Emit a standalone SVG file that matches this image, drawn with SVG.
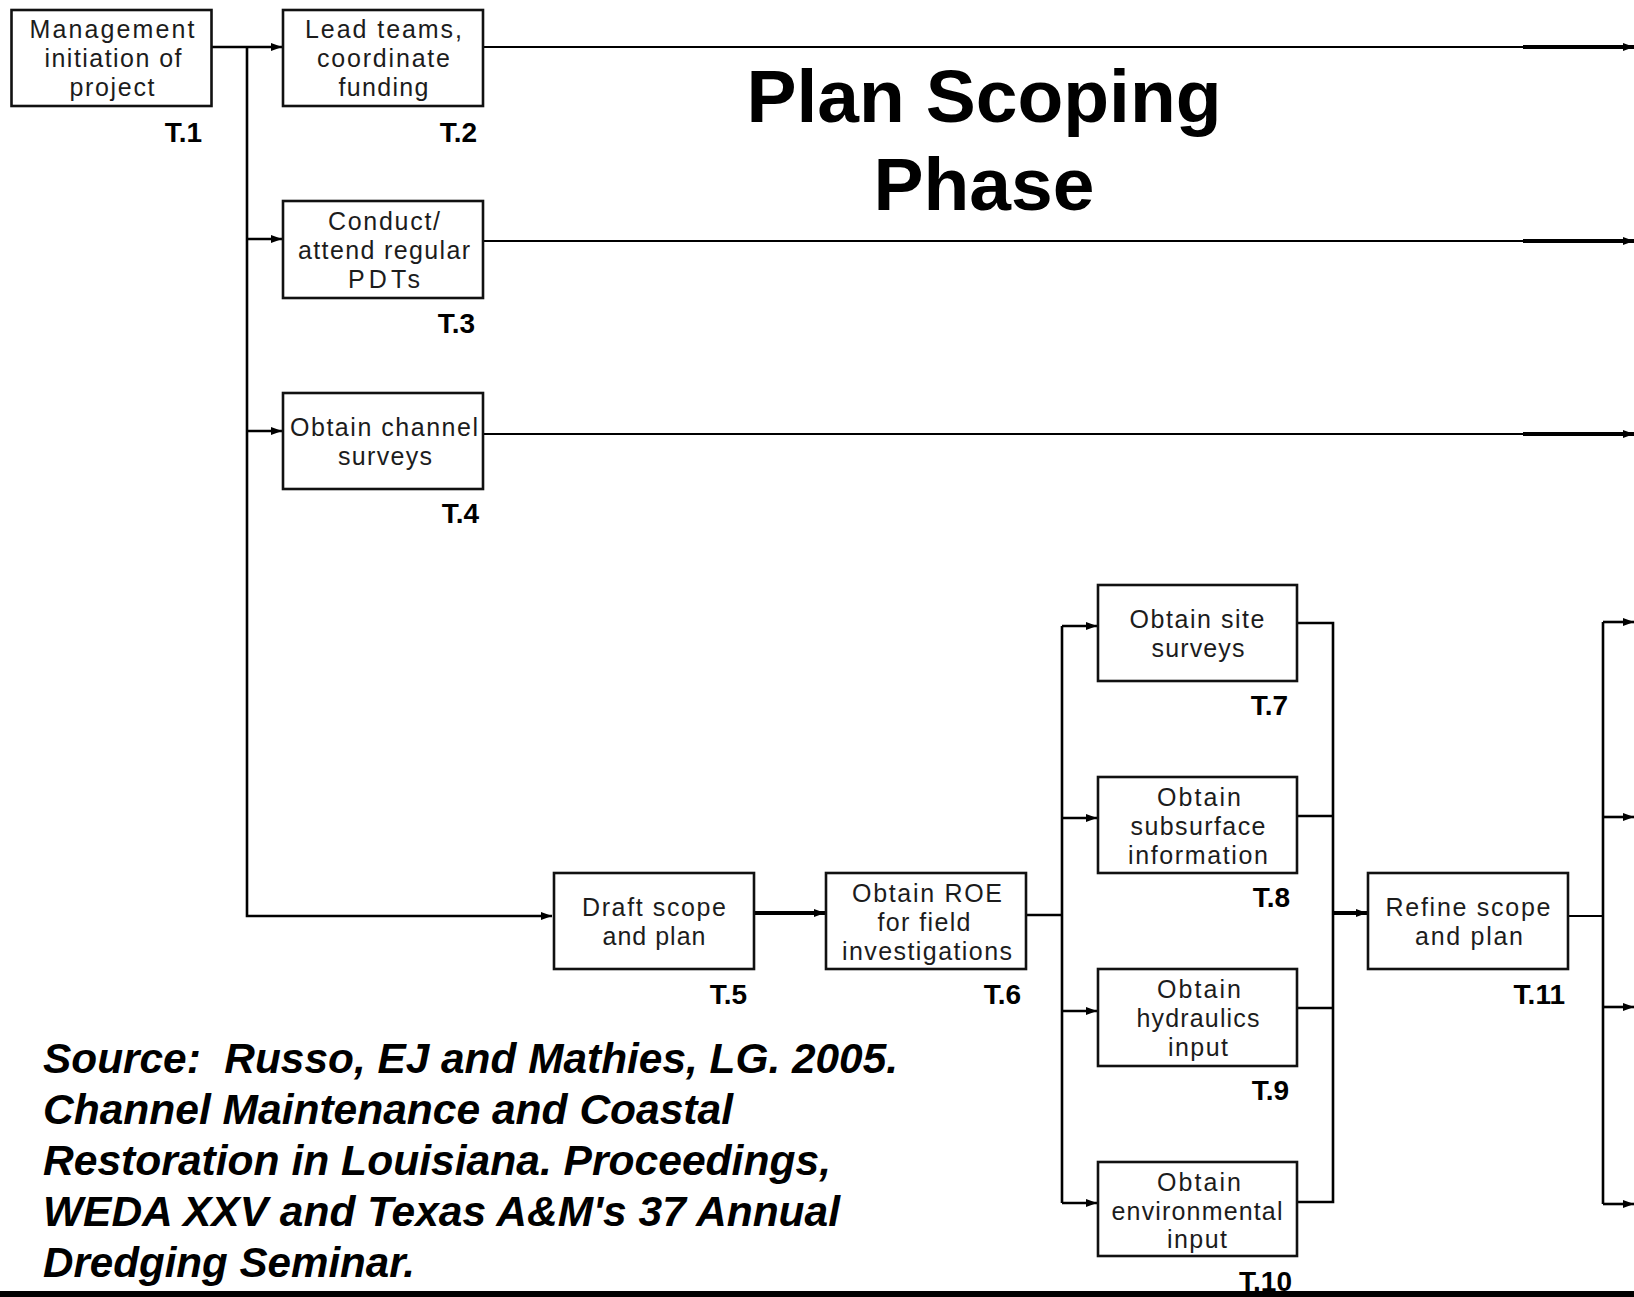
<svg xmlns="http://www.w3.org/2000/svg" width="1634" height="1297" viewBox="0 0 1634 1297">
<style>
.box{fill:#fff;stroke:#111;stroke-width:2.6}
.t{font-family:"Liberation Sans",Arial,sans-serif;font-size:25px;fill:#1c1c1c;text-anchor:middle}
.lbl{font-family:"Liberation Sans",Arial,sans-serif;font-size:28px;font-weight:bold;fill:#000;text-anchor:end}
.title{font-family:"Liberation Sans",Arial,sans-serif;font-size:75px;font-weight:bold;fill:#000;text-anchor:middle}
.src{font-family:"Liberation Sans",Arial,sans-serif;font-size:42px;font-weight:bold;font-style:italic;fill:#000;white-space:pre}
.ln{fill:none;stroke:#000;stroke-width:2.6}
.thin{fill:none;stroke:#000;stroke-width:2}
.thick{fill:none;stroke:#000;stroke-width:4}
</style>
<defs>
<marker id="ah" markerUnits="userSpaceOnUse" markerWidth="11" markerHeight="9" refX="11" refY="4.5" orient="auto">
<path d="M0,0.5 L11,4.5 L0,8.5 z" fill="#000"/>
</marker>
</defs>
<rect x="0" y="0" width="1634" height="1297" fill="#fff"/>
<g id="title">
<text class="title" x="984" y="122">Plan Scoping</text>
<text class="title" x="984" y="210">Phase</text>
</g>
<g id="connectors">
<path class="ln" d="M209,47 H282" marker-end="url(#ah)"/>
<path class="ln" d="M247,47 V916 H552" marker-end="url(#ah)"/>
<path class="ln" d="M247,239 H282" marker-end="url(#ah)"/>
<path class="ln" d="M247,431 H282" marker-end="url(#ah)"/>
<path class="thin" d="M484,47 H1523"/>
<path class="thick" d="M1523,47 H1634" marker-end="url(#ah)"/>
<path class="thin" d="M484,241 H1523"/>
<path class="thick" d="M1523,241 H1634" marker-end="url(#ah)"/>
<path class="thin" d="M484,434 H1523"/>
<path class="thick" d="M1523,434 H1634" marker-end="url(#ah)"/>
<path class="thick" d="M755,913 H825" marker-end="url(#ah)"/>
<path class="ln" d="M1027,915 H1062"/>
<path class="ln" d="M1062,626 V1203"/>
<path class="ln" d="M1062,626 H1097" marker-end="url(#ah)"/>
<path class="ln" d="M1062,818 H1097" marker-end="url(#ah)"/>
<path class="ln" d="M1062,1011 H1097" marker-end="url(#ah)"/>
<path class="ln" d="M1062,1203 H1097" marker-end="url(#ah)"/>
<path class="ln" d="M1297,623 H1333 V1202 H1297"/>
<path class="ln" d="M1297,816 H1333"/>
<path class="ln" d="M1297,1008 H1333"/>
<path class="thick" d="M1333,913 H1367" marker-end="url(#ah)"/>
<path class="thin" d="M1569,916 H1603"/>
<path class="ln" d="M1603,622 V1204"/>
<path class="ln" d="M1603,622 H1634" marker-end="url(#ah)"/>
<path class="ln" d="M1603,817 H1634" marker-end="url(#ah)"/>
<path class="ln" d="M1603,1007 H1634" marker-end="url(#ah)"/>
<path class="ln" d="M1603,1204 H1634" marker-end="url(#ah)"/>
</g>
<g id="T1">
<rect class="box" x="11.5" y="10" width="200" height="96"/>
<text class="t" x="112" y="38" textLength="165">Management</text>
<text class="t" x="113" y="67" textLength="137">initiation of</text>
<text class="t" x="112" y="96" textLength="85">project</text>
<text class="lbl" x="202" y="142">T.1</text>
</g>
<g id="T2">
<rect class="box" x="283" y="10" width="200" height="96"/>
<text class="t" x="383.5" y="38" textLength="157">Lead teams,</text>
<text class="t" x="383.5" y="67" textLength="133">coordinate</text>
<text class="t" x="383.5" y="96" textLength="90">funding</text>
<text class="lbl" x="477" y="142">T.2</text>
</g>
<g id="T3">
<rect class="box" x="283" y="201" width="200" height="97"/>
<text class="t" x="384" y="230" textLength="112">Conduct/</text>
<text class="t" x="384" y="259" textLength="172">attend regular</text>
<text class="t" x="384" y="288" textLength="72">PDTs</text>
<text class="lbl" x="475" y="333">T.3</text>
</g>
<g id="T4">
<rect class="box" x="283" y="393" width="200" height="96"/>
<text class="t" x="384" y="436" textLength="188">Obtain channel</text>
<text class="t" x="385" y="465" textLength="94">surveys</text>
<text class="lbl" x="479" y="523">T.4</text>
</g>
<g id="T5">
<rect class="box" x="554" y="873" width="200" height="96"/>
<text class="t" x="654" y="916" textLength="144">Draft scope</text>
<text class="t" x="654" y="945" textLength="103">and plan</text>
<text class="lbl" x="747" y="1004">T.5</text>
</g>
<g id="T6">
<rect class="box" x="826" y="873" width="200" height="96"/>
<text class="t" x="927" y="902" textLength="150">Obtain ROE</text>
<text class="t" x="924" y="931" textLength="93">for field</text>
<text class="t" x="927" y="960" textLength="170">investigations</text>
<text class="lbl" x="1021" y="1004">T.6</text>
</g>
<g id="T7">
<rect class="box" x="1098" y="585" width="199" height="96"/>
<text class="t" x="1197" y="628" textLength="135">Obtain site</text>
<text class="t" x="1198" y="657" textLength="93">surveys</text>
<text class="lbl" x="1288" y="715">T.7</text>
</g>
<g id="T8">
<rect class="box" x="1098" y="777" width="199" height="96"/>
<text class="t" x="1199" y="806" textLength="84">Obtain</text>
<text class="t" x="1198" y="835" textLength="135">subsurface</text>
<text class="t" x="1198" y="864" textLength="140">information</text>
<text class="lbl" x="1290" y="907">T.8</text>
</g>
<g id="T9">
<rect class="box" x="1098" y="969" width="199" height="97"/>
<text class="t" x="1199" y="998" textLength="84">Obtain</text>
<text class="t" x="1198" y="1027" textLength="123">hydraulics</text>
<text class="t" x="1198" y="1056" textLength="60">input</text>
<text class="lbl" x="1289" y="1100">T.9</text>
</g>
<g id="T10">
<rect class="box" x="1098" y="1162" width="199" height="94"/>
<text class="t" x="1199" y="1191" textLength="84">Obtain</text>
<text class="t" x="1197" y="1220" textLength="171">environmental</text>
<text class="t" x="1197" y="1248" textLength="60">input</text>
<text class="lbl" x="1292" y="1291">T.10</text>
</g>
<g id="T11">
<rect class="box" x="1368" y="873" width="200" height="96"/>
<text class="t" x="1468" y="916" textLength="165">Refine scope</text>
<text class="t" x="1469" y="945" textLength="108">and plan</text>
<text class="lbl" x="1565" y="1004">T.11</text>
</g>
<g id="source">
<text class="src" x="43" y="1073" textLength="855" lengthAdjust="spacingAndGlyphs">Source:  Russo, EJ and Mathies, LG. 2005.</text>
<text class="src" x="43" y="1124" textLength="690" lengthAdjust="spacingAndGlyphs">Channel Maintenance and Coastal</text>
<text class="src" x="43" y="1175" textLength="788" lengthAdjust="spacingAndGlyphs">Restoration in Louisiana. Proceedings,</text>
<text class="src" x="43" y="1226" textLength="797" lengthAdjust="spacingAndGlyphs">WEDA XXV and Texas A&amp;M's 37 Annual</text>
<text class="src" x="43" y="1277" textLength="372" lengthAdjust="spacingAndGlyphs">Dredging Seminar.</text>
</g>
<rect id="bottom-bar" x="0" y="1291" width="1634" height="6" fill="#000"/>
</svg>
